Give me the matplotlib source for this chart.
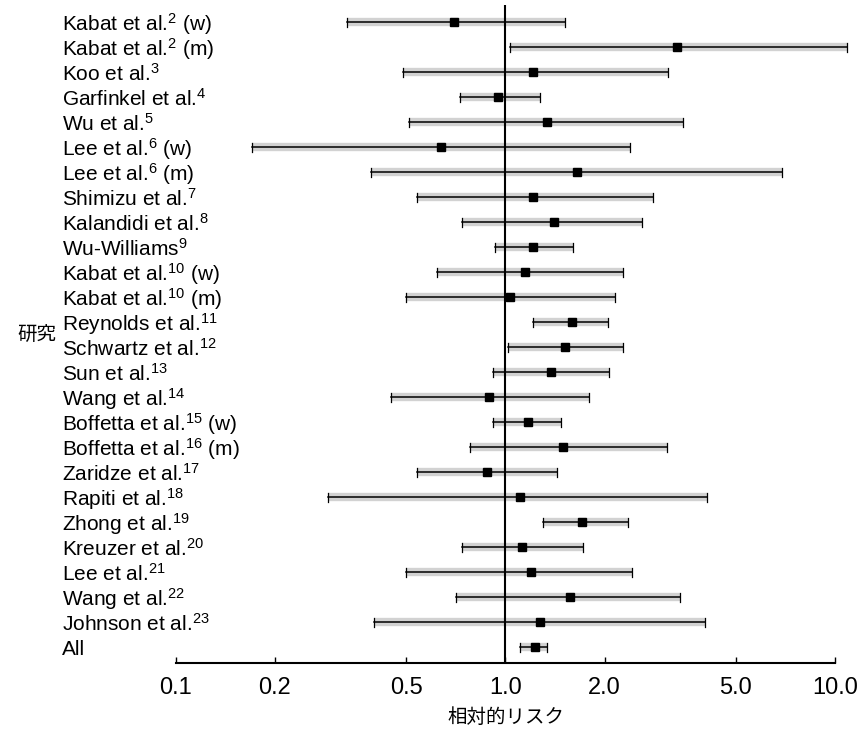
import matplotlib
import matplotlib.pyplot as plt
import matplotlib.transforms as mtransforms

matplotlib.pyplot.switch_backend('Agg')

# study names, reference numbers and sex tag, top to bottom
studies = ["Kabat et al.", "Kabat et al.", "Koo et al.", "Garfinkel et al.", "Wu et al.",
           "Lee et al.", "Lee et al.", "Shimizu et al.", "Kalandidi et al.", "Wu-Williams",
           "Kabat et al.", "Kabat et al.", "Reynolds et al.", "Schwartz et al.", "Sun et al.",
           "Wang et al.", "Boffetta et al.", "Boffetta et al.", "Zaridze et al.", "Rapiti et al.",
           "Zhong et al.", "Kreuzer et al.", "Lee et al.", "Wang et al.", "Johnson et al.", "All"]
refs = ["2", "2", "3", "4", "5", "6", "6", "7", "8", "9", "10", "10", "11", "12", "13",
        "14", "15", "16", "17", "18", "19", "20", "21", "22", "23", ""]
sex = ["(w)", "(m)", "", "", "", "(w)", "(m)", "", "", "", "(w)", "(m)", "", "", "",
       "", "(w)", "(m)", "", "", "", "", "", "", "", ""]

# relative risk with 95% CI
rr = [0.70, 3.32, 1.21, 0.95, 1.34, 0.64, 1.65, 1.21, 1.41, 1.21, 1.15, 1.03, 1.59,
      1.52, 1.38, 0.89, 1.17, 1.50, 0.88, 1.11, 1.71, 1.12, 1.20, 1.57, 1.27, 1.23]
lo = [0.33, 1.03, 0.49, 0.73, 0.51, 0.17, 0.39, 0.54, 0.74, 0.93, 0.62, 0.50, 1.21,
      1.02, 0.92, 0.45, 0.92, 0.78, 0.54, 0.29, 1.30, 0.74, 0.50, 0.71, 0.40, 1.11]
hi = [1.52, 10.9, 3.11, 1.27, 3.46, 2.39, 6.90, 2.80, 2.60, 1.60, 2.27, 2.15, 2.05,
      2.27, 2.07, 1.80, 1.48, 3.09, 1.44, 4.10, 2.35, 1.72, 2.42, 3.39, 4.03, 1.34]

ticks = [0.1, 0.2, 0.5, 1.0, 2.0, 5.0, 10.0]
tick_labels = ["0.1", "0.2", "0.5", "1.0", "2.0", "5.0", "10.0"]

plt.rcParams['font.family'] = ['Liberation Sans', 'DejaVu Sans']
plt.rcParams['mathtext.fontset'] = 'custom'
plt.rcParams['mathtext.rm'] = 'Liberation Sans'
plt.rcParams['mathtext.it'] = 'Liberation Sans'

fig = plt.figure(figsize=(8.66, 7.31), dpi=100)
ax = fig.add_axes([0.203, 0.093, 0.761, 0.9])

rows = list(range(len(studies)))
for i in rows:
    ax.plot([lo[i], hi[i]], [i, i], color='#d2d2d2', lw=6, solid_capstyle='butt', zorder=1, clip_on=False)
    ax.plot([lo[i], hi[i]], [i, i], color='black', lw=1.1, zorder=2, clip_on=False)
    ax.plot([lo[i], lo[i]], [i - 0.18, i + 0.18], color='black', lw=0.9, zorder=2, clip_on=False)
    ax.plot([hi[i], hi[i]], [i - 0.18, i + 0.18], color='black', lw=0.9, zorder=2, clip_on=False)
ax.plot(rr, rows, 's', color='black', markersize=6, zorder=3)

ax.axvline(1.0, color='black', lw=1.5, zorder=2)

ax.set_xscale('log')
ax.set_xlim(0.1, 10)
ax.set_ylim(25.64, -0.68)
ax.set_xticks(ticks)
ax.set_xticklabels(tick_labels, fontsize=17)
ax.minorticks_off()
ax.tick_params(axis='x', direction='in', length=4, width=1, pad=10)
ax.set_yticks([])
for s in ['top', 'right', 'left']:
    ax.spines[s].set_visible(False)
ax.spines['bottom'].set_linewidth(1.5)

trans = mtransforms.blended_transform_factory(fig.transFigure, ax.transData)
for i in rows:
    label = studies[i]
    if refs[i]:
        label += "$^{" + refs[i] + "}$"
    if sex[i]:
        label += " " + sex[i]
    ax.text(0.072, i + 0.08, label, transform=trans, ha='left', va='center', fontsize=15)

ax.text(0.02, 12.55, "研究", transform=trans, ha='left', va='center', fontsize=14,
        family=['Noto Sans CJK JP', 'DejaVu Sans'])
fig.text(0.584, 0.004, "相対的リスク", ha='center', va='bottom', fontsize=14,
         family=['Noto Sans CJK JP', 'DejaVu Sans'])

fig.savefig('out.png', dpi=100)
plt.close()
